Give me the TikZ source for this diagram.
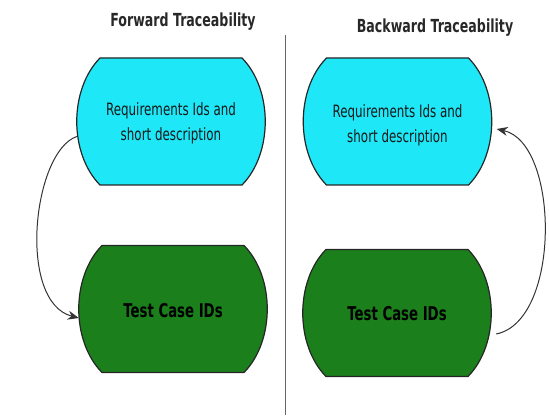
\documentclass[tikz,border=0pt]{standalone}
\usepackage{fontspec}
\setmainfont{DejaVu Sans}[FakeStretch=0.7]
\usetikzlibrary{arrows.meta}
\definecolor{reqcyan}{RGB}{30,232,248}
\definecolor{tcgreen}{RGB}{27,127,27}
\definecolor{titlegray}{RGB}{40,40,40}
\newcommand\bulgeshape[3]{%
  \filldraw[bulgeline, fill=#3, shift={(#1,#2)}]
    (-71,-63.5) -- (71,-63.5) .. controls (102,-32) and (102,32) .. (71,63.5)
    -- (-71,63.5) .. controls (-102,32) and (-102,-32) .. cycle;}
\tikzset{
  bulgeline/.style={draw=black!85, line width=1.2pt},
  boxtext/.style={draw=none, minimum width=188pt, minimum height=127pt, align=center, inner sep=0pt},
  reqtext/.style={boxtext, text=black!90, font=\fontsize{17}{25}\selectfont},
  tctext/.style={boxtext, text=black, font=\bfseries\fontsize{19}{22}\selectfont},
  titletext/.style={text=titlegray, font=\bfseries\fontsize{18}{20}\selectfont, inner sep=0pt},
  conn/.style={draw=black!80, line width=1pt, -{Stealth[length=11pt,width=9pt]}},
  divider/.style={draw=black!60, line width=0.8pt}
}
\begin{document}
\begin{tikzpicture}[x=1pt,y=-1pt]
\useasboundingbox (0,0) rectangle (549,419);
% titles
\node[titletext] (ft) at (183,22) {Forward Traceability};
\node[titletext] (bt) at (435,28) {Backward Traceability};
% divider
\coordinate (dtop) at (285,35);
\coordinate (dbot) at (285,415);
\draw[divider] (dtop) -- (dbot);
% shapes
\bulgeshape{171}{121.5}{reqcyan}
\bulgeshape{173}{309}{tcgreen}
\bulgeshape{397.5}{121.5}{reqcyan}
\bulgeshape{397}{313}{tcgreen}
% texts / nodes
\node[reqtext] (lt) at (171,123) {Requirements Ids and\\short description};
\node[tctext] (lb) at (173,311) {Test Case IDs};
\node[reqtext] (rt) at (397.5,125) {Requirements Ids and\\short description};
\node[tctext] (rb) at (397,314) {Test Case IDs};
% connectors
\draw[conn] ([yshift=-13.5pt]lt.west) .. controls +(-44,15) and +(-62,-16) .. ([yshift=-7pt]lb.west);
\draw[conn] ([xshift=5pt,yshift=-20pt]rb.east) .. controls +(65,-13) and +(63,14) .. ([xshift=5pt,yshift=-4pt]rt.east);
\end{tikzpicture}
\end{document}
